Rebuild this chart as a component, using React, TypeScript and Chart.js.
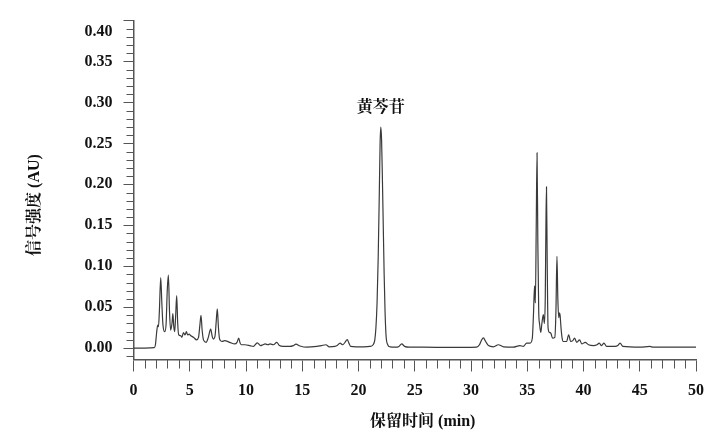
import React, { useEffect, useRef } from "react";
import { Chart, registerables } from "chart.js";

Chart.register(...registerables);

// Retention time (min)
const retentionTimes = [
  0, 1.0, 1.85, 1.95, 2.05, 2.15, 2.22, 2.3, 2.42, 2.52, 2.62, 2.78, 2.9, 3.0, 3.1, 3.2, 3.3, 3.42, 3.5, 3.58,
  3.66, 3.75, 3.84, 3.93, 4.02, 4.2, 4.3, 4.44, 4.58, 4.7, 4.82, 4.95, 5.1, 5.35, 5.6, 5.78, 5.9, 6.0, 6.1, 6.22,
  6.45, 6.65, 6.86, 7.0, 7.1, 7.25, 7.35, 7.45, 7.55, 7.65, 7.85, 8.1, 8.55, 9.0, 9.2, 9.35, 9.48, 9.6, 9.9, 10.35,
  10.65, 11.0, 11.3, 11.5, 11.7, 11.95, 12.14, 12.44, 12.73, 12.97, 13.3, 13.9, 14.2, 14.44, 14.8, 15.4, 16.3, 16.7, 17.1, 17.4,
  17.9, 18.1, 18.36, 18.6, 18.8, 19.0, 19.15, 19.3, 19.8, 20.5, 21.0, 21.3, 21.45, 21.55, 21.65, 21.75, 21.85, 21.92, 21.98, 22.05,
  22.12, 22.2, 22.28, 22.36, 22.45, 22.6, 22.8, 23.3, 23.6, 23.84, 24.1, 24.5, 25.76, 28.1, 30.0, 30.5, 30.75, 30.95, 31.1, 31.3,
  31.55, 32.0, 32.43, 32.9, 33.75, 34.35, 34.65, 34.95, 35.25, 35.45, 35.55, 35.65, 35.72, 35.8, 35.87, 35.94, 36.02, 36.1, 36.2, 36.3,
  36.43, 36.52, 36.6, 36.66, 36.71, 36.77, 36.85, 36.98, 37.1, 37.25, 37.45, 37.55, 37.64, 37.72, 37.8, 37.86, 37.92, 38.0, 38.1, 38.2,
  38.5, 38.68, 38.86, 39.05, 39.2, 39.4, 39.65, 39.85, 40.15, 40.45, 40.9, 41.2, 41.4, 41.6, 41.82, 42.05, 42.8, 43.05, 43.25, 43.5,
  45.0, 45.9, 46.2, 48.0, 50.0,
];

// Signal intensity (AU)
const signal = [
  0, 0, 0.0005, 0.004, 0.018, 0.028, 0.026, 0.045, 0.086, 0.055, 0.028, 0.02, 0.03, 0.07, 0.089, 0.045, 0.022, 0.03, 0.042, 0.026,
  0.02, 0.04, 0.064, 0.03, 0.016, 0.015, 0.013, 0.019, 0.016, 0.02, 0.016, 0.017, 0.015, 0.013, 0.01, 0.013, 0.028, 0.04, 0.022, 0.01,
  0.007, 0.013, 0.023, 0.014, 0.011, 0.015, 0.032, 0.048, 0.025, 0.011, 0.008, 0.009, 0.007, 0.005, 0.007, 0.012, 0.006, 0.004, 0.004, 0.003,
  0.002, 0.0064, 0.003, 0.004, 0.005, 0.004, 0.005, 0.004, 0.007, 0.003, 0.002, 0.002, 0.003, 0.0047, 0.0025, 0.001, 0.002, 0.003, 0.004, 0.0015,
  0.002, 0.003, 0.006, 0.004, 0.007, 0.0103, 0.006, 0.002, 0.0015, 0.0015, 0.002, 0.004, 0.01, 0.025, 0.055, 0.11, 0.19, 0.25, 0.27, 0.255,
  0.21, 0.15, 0.09, 0.045, 0.015, 0.004, 0.0015, 0.001, 0.002, 0.005, 0.002, 0.001, 0.001, 0.0007, 0.0008, 0.001, 0.004, 0.01, 0.0123, 0.008,
  0.003, 0.0015, 0.004, 0.0015, 0.001, 0.003, 0.002, 0.006, 0.006, 0.012, 0.04, 0.076, 0.055, 0.15, 0.2385, 0.13, 0.045, 0.029, 0.019, 0.03,
  0.041, 0.03, 0.06, 0.15, 0.197, 0.11, 0.025, 0.019, 0.018, 0.012, 0.013, 0.045, 0.112, 0.06, 0.037, 0.043, 0.04, 0.025, 0.012, 0.008,
  0.008, 0.016, 0.008, 0.009, 0.012, 0.007, 0.01, 0.005, 0.007, 0.004, 0.003, 0.004, 0.006, 0.003, 0.006, 0.002, 0.002, 0.003, 0.006, 0.002,
  0.001, 0.002, 0.001, 0.001, 0.001,
];

const xTickValues = [0, 5, 10, 15, 20, 25, 30, 35, 40, 45, 50];
const yTickValues = [0, 0.05, 0.1, 0.15, 0.2, 0.25, 0.3, 0.35, 0.4];

const peakName = "黄芩苷";
const peakTime = 21.98;
const peakValue = 0.27;

const xTitle = "保留时间 (min)";
const yTitle = "信号强度 (AU)";

const FONT = "'Liberation Serif', 'Times New Roman', 'Noto Serif CJK SC', 'Noto Sans CJK SC', serif";
const AXIS = "#555555";
const LINE = "#3a3a3a";

const decorPlugin = {
  id: "decor",
  afterDraw(chart: any) {
    const { ctx, chartArea } = chart;
    const x = chart.scales.x;
    const y = chart.scales.y;
    ctx.save();
    ctx.strokeStyle = AXIS;
    ctx.lineWidth = 1;
    // minor ticks on y axis (every 0.01)
    for (let i = -1; i <= 40; i++) {
      if (i % 5 === 0) continue;
      const py = Math.round(y.getPixelForValue(i / 100)) + 0.5;
      ctx.beginPath();
      ctx.moveTo(chartArea.left - 7, py);
      ctx.lineTo(chartArea.left, py);
      ctx.stroke();
    }
    // minor ticks on x axis (every 1 min)
    for (let i = 1; i < 50; i++) {
      if (i % 5 === 0) continue;
      const px = Math.round(x.getPixelForValue(i)) + 0.5;
      ctx.beginPath();
      ctx.moveTo(px, chartArea.bottom);
      ctx.lineTo(px, chartArea.bottom + 9);
      ctx.stroke();
    }
    ctx.fillStyle = "#111";
    // top y label (drawn a bit lower, as in the original figure)
    const topVal = yTickValues[yTickValues.length - 1];
    ctx.font = `bold 16px ${FONT}`;
    ctx.textAlign = "right";
    ctx.textBaseline = "middle";
    ctx.fillText(topVal.toFixed(2), chartArea.left - 21, y.getPixelForValue(topVal) + 11);

    // peak annotation
    ctx.textAlign = "center";
    ctx.textBaseline = "middle";
    ctx.fillText(peakName, x.getPixelForValue(peakTime), y.getPixelForValue(peakValue) - 19);

    // axis titles
    ctx.fillText(xTitle, (chartArea.left + chartArea.right) / 2 + 8, chartArea.bottom + 62);
    ctx.save();
    ctx.translate(35, (chartArea.top + chartArea.bottom) / 2 + 15);
    ctx.rotate(-Math.PI / 2);
    ctx.fillText(yTitle, 0, 0);
    ctx.restore();
    ctx.restore();
  },
};

export default function App() {
  const canvasRef = useRef<HTMLCanvasElement | null>(null);

  useEffect(() => {
    document.body.style.margin = "0";
    const canvas = canvasRef.current;
    if (!canvas) return;
    const data = retentionTimes.map((t, i) => ({ x: t, y: signal[i] }));
    const chart = new Chart(canvas, {
      type: "line",
      data: {
        datasets: [
          {
            data,
            borderColor: LINE,
            borderWidth: 1.2,
            pointRadius: 0,
            fill: false,
            cubicInterpolationMode: "monotone",
          },
        ],
      },
      options: {
        animation: false,
        responsive: false,
        maintainAspectRatio: false,
        layout: { padding: { left: 0, top: 11, right: 24, bottom: 0 } },
        plugins: { legend: { display: false }, tooltip: { enabled: false }, title: { display: false } },
        scales: {
          x: {
            type: "linear",
            min: 0,
            max: 50,
            afterFit: (scale: any) => {
              scale.height = 80.5;
            },
            afterBuildTicks: (scale: any) => {
              scale.ticks = xTickValues.map((v) => ({ value: v }));
            },
            ticks: {
              font: { family: FONT, size: 16, weight: "bold" },
              color: "#111",
              padding: 10,
              maxRotation: 0,
              autoSkip: false,
              callback: (v: any) => String(v),
            },
            grid: {
              drawOnChartArea: false,
              drawTicks: true,
              tickLength: 12,
              color: AXIS,
              tickWidth: 1,
            },
            border: { display: true, color: AXIS, width: 1.5 },
          },
          y: {
            type: "linear",
            min: -0.014,
            max: 0.4,
            afterFit: (scale: any) => {
              scale.width = 133.5;
            },
            afterBuildTicks: (scale: any) => {
              scale.ticks = yTickValues.map((v) => ({ value: v }));
            },
            ticks: {
              font: { family: FONT, size: 16, weight: "bold" },
              color: "#111",
              padding: 11,
              autoSkip: false,
              callback: (v: any) => (Math.abs(v - yTickValues[yTickValues.length - 1]) < 1e-9 ? "" : Number(v).toFixed(2)),
            },
            grid: {
              drawOnChartArea: false,
              drawTicks: true,
              tickLength: 10,
              color: AXIS,
              tickWidth: 1,
            },
            border: { display: true, color: AXIS, width: 1.5 },
          },
        },
      },
      plugins: [decorPlugin],
    });
    return () => chart.destroy();
  }, []);

  return (
    <div style={{ width: 720, height: 440, background: "#fff" }}>
      <canvas ref={canvasRef} width={720} height={440} style={{ display: "block" }} />
    </div>
  );
}
